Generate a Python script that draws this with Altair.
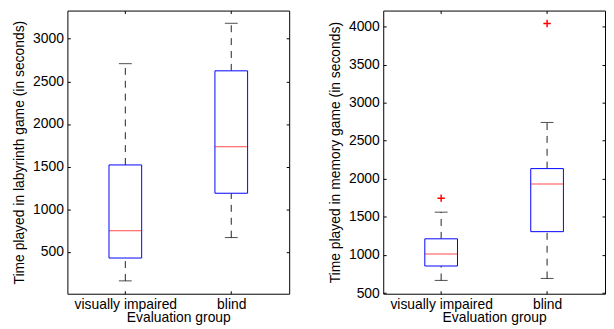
import altair as alt
import pandas as pd

groups = ["visually impaired", "blind"]
positions = [1, 2]

# Labyrinth game (seconds)
lab_lo = [160, 668]
lab_q1 = [428, 1188]
lab_med = [748, 1732]
lab_q3 = [1520, 2624]
lab_hi = [2708, 3182]
lab_out_pos = []
lab_out_val = []

# Memory game (seconds)
mem_lo = [666, 692]
mem_q1 = [855, 1306]
mem_med = [1012, 1933]
mem_q3 = [1212, 2134]
mem_hi = [1562, 2740]
mem_out_pos = [1, 2]
mem_out_val = [1746, 4040]

FONT = "Liberation Sans"
label_expr = "[" + ",".join("'" + g + "'" for g in groups) + "][datum.value - 1]"


def panel(lo, q1, med, q3, hi, out_pos, out_val, ytitle, ydomain, yticks, width):
    df = pd.DataFrame({"pos": positions, "group": groups, "lo": lo, "q1": q1,
                       "med": med, "q3": q3, "hi": hi})
    xs = alt.Scale(domain=[0.5, 2.5], nice=False, zero=False)
    ys = alt.Scale(domain=ydomain, nice=False, zero=False)
    base = alt.Chart(df)

    x_bottom = alt.X("pos:Q", scale=xs, title="Evaluation group",
                     axis=alt.Axis(orient="bottom", values=positions, labelExpr=label_expr,
                                   offset=-3, tickSize=3, domain=False, grid=False,
                                   labelPadding=4, titlePadding=-1))
    y_left = alt.Y("lo:Q", scale=ys, title=ytitle,
                   axis=alt.Axis(orient="left", values=yticks, format="d", offset=-3, tickSize=3,
                                 domain=False, grid=False, labelPadding=4, titlePadding=6))
    x_top = alt.X("pos:Q", scale=xs,
                  axis=alt.Axis(orient="top", values=positions, labels=False, title=None,
                                offset=-3, tickSize=3, domain=False, grid=False))
    y_right = alt.Y("q3:Q", scale=ys,
                    axis=alt.Axis(orient="right", values=yticks, labels=False, title=None,
                                  offset=-3, tickSize=3, domain=False, grid=False))

    w_low = base.mark_rule(color="#222", strokeWidth=1, strokeDash=[7, 6]).encode(
        x=x_bottom, y=y_left, y2="q1:Q")
    w_high = base.mark_rule(color="#222", strokeWidth=1, strokeDash=[7, 6]).encode(
        x=x_top, y=y_right, y2="hi:Q")
    box = base.mark_bar(fill="white", stroke="#0000ff", strokeWidth=1, size=33).encode(
        x=alt.X("pos:Q", scale=xs, axis=None),
        y=alt.Y("q1:Q", scale=ys, axis=None), y2="q3:Q")
    median = base.mark_tick(color="#ff0000", orient="horizontal", size=33, thickness=1).encode(
        x=alt.X("pos:Q", scale=xs, axis=None),
        y=alt.Y("med:Q", scale=ys, axis=None))
    cap_lo = base.mark_tick(color="black", orient="horizontal", size=13, thickness=1).encode(
        x=alt.X("pos:Q", scale=xs, axis=None),
        y=alt.Y("lo:Q", scale=ys, axis=None))
    cap_hi = base.mark_tick(color="black", orient="horizontal", size=13, thickness=1).encode(
        x=alt.X("pos:Q", scale=xs, axis=None),
        y=alt.Y("hi:Q", scale=ys, axis=None))
    layers = [w_low, w_high, box, median, cap_lo, cap_hi]
    if out_pos:
        odf = pd.DataFrame({"pos": out_pos, "val": out_val})
        outl = alt.Chart(odf).mark_point(shape="M-1,0L1,0M0,-1L0,1", filled=False,
                                         stroke="#ff0000", strokeWidth=1.5, size=56,
                                         opacity=1).encode(
            x=alt.X("pos:Q", scale=xs, axis=None),
            y=alt.Y("val:Q", scale=ys, axis=None))
        layers.append(outl)
    return alt.layer(*layers).resolve_axis(x="independent", y="independent").properties(
        width=width, height=286)


left = panel(lab_lo, lab_q1, lab_med, lab_q3, lab_hi, lab_out_pos, lab_out_val,
             "Time played in labyrinth game (in seconds)", [9, 3331],
             [500, 1000, 1500, 2000, 2500, 3000], 224)
right = panel(mem_lo, mem_q1, mem_med, mem_q3, mem_hi, mem_out_pos, mem_out_val,
              "Time played in memory game (in seconds)", [491, 4209],
              [500, 1000, 1500, 2000, 2500, 3000, 3500, 4000], 224)

chart = alt.hconcat(left, right, spacing=38).properties(
    padding={"left": 4, "top": 0, "right": 0, "bottom": 0}
).configure_view(stroke="black", strokeWidth=1).configure_axis(
    labelFont=FONT, titleFont=FONT, labelFontSize=14, titleFontSize=14,
    titleFontWeight="normal", labelColor="black", titleColor="black",
    tickColor="black", tickWidth=1)

chart.save("out.html", embed_options={"renderer": "svg", "actions": False})
